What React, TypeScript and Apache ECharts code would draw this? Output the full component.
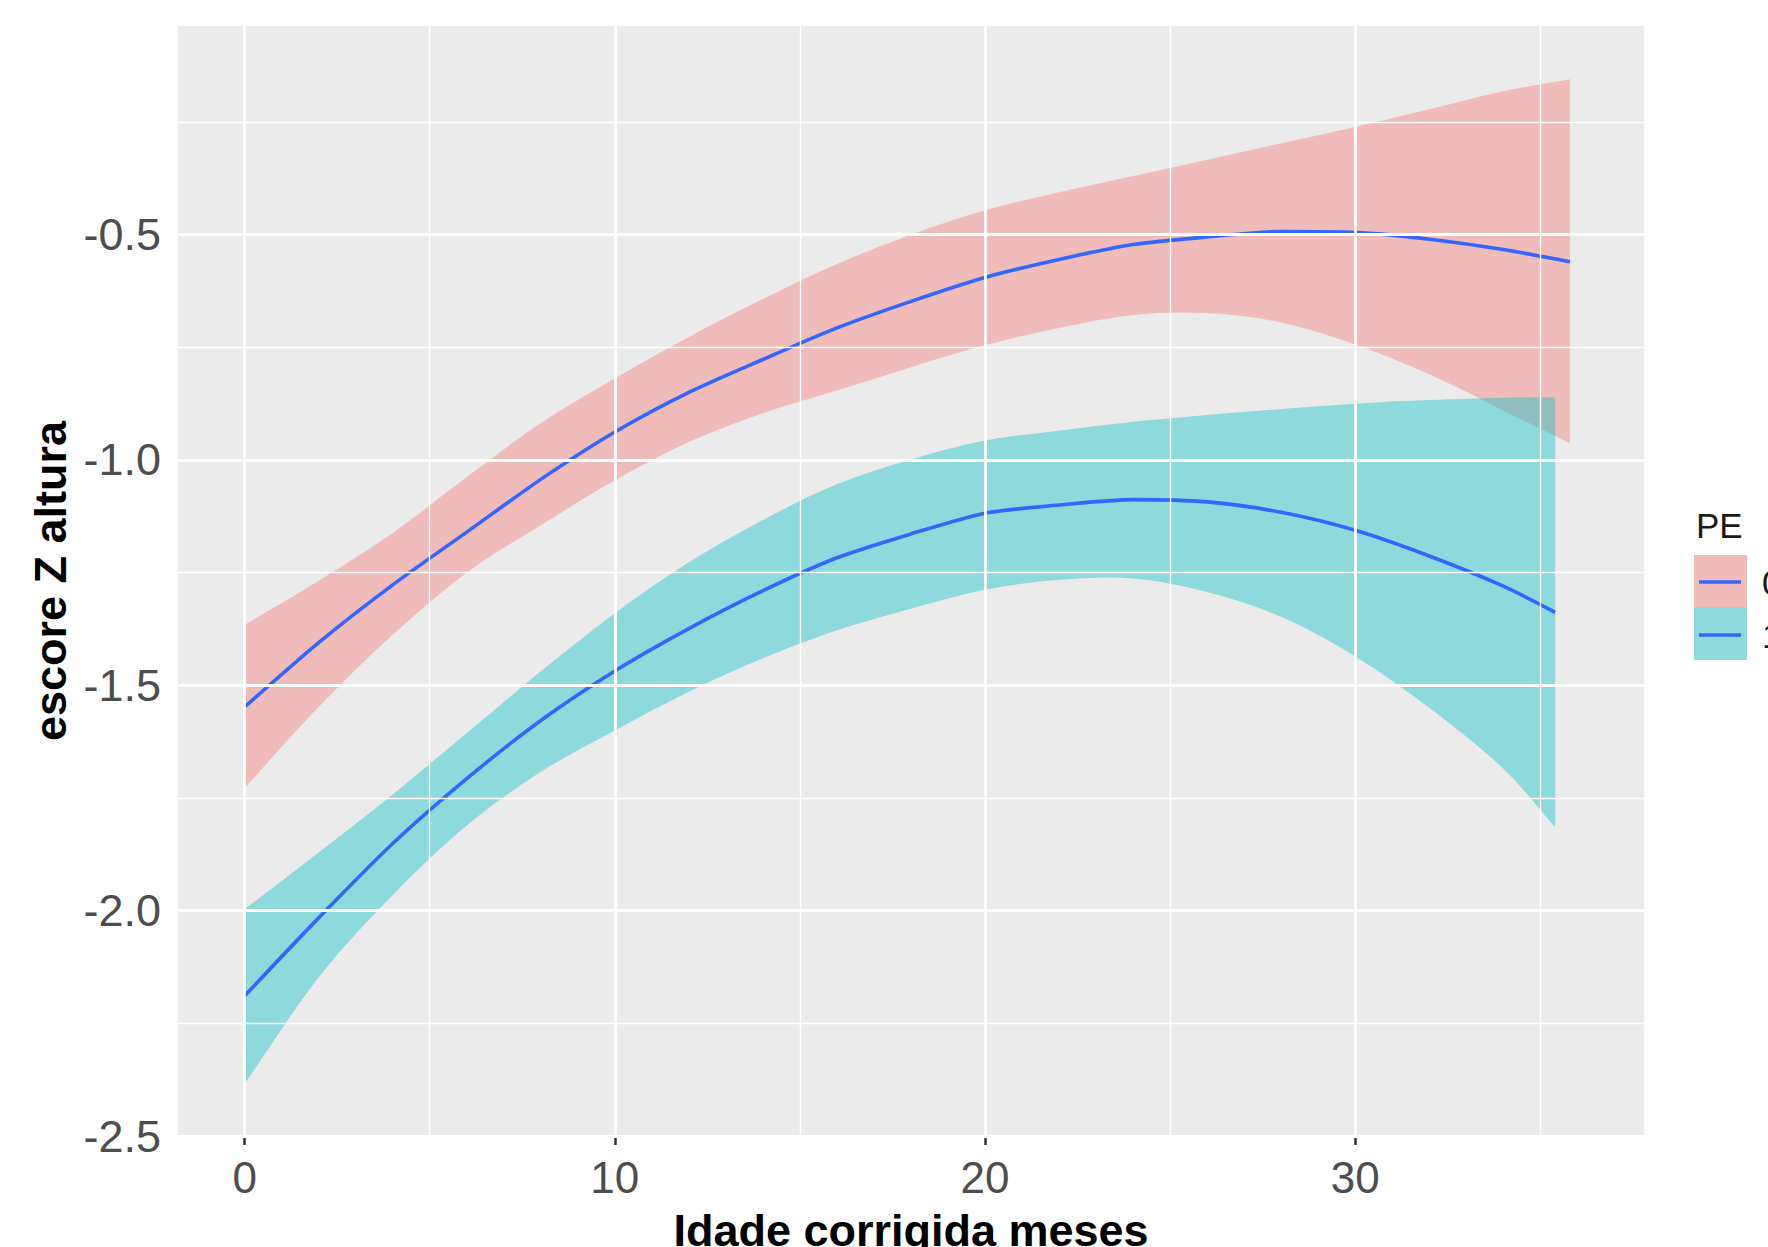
import React, { useEffect, useRef } from "react";
import * as echarts from "echarts";

// ---- Data ----
const xPE0 = [0, 2, 4, 6, 8, 10, 12, 14, 16, 18, 20, 22, 24, 26, 28, 30, 32, 34, 35.8];
const fitPE0 = [-1.548, -1.405, -1.277, -1.16, -1.043, -0.938, -0.85, -0.777, -0.707, -0.648, -0.595, -0.555, -0.522, -0.505, -0.493, -0.495, -0.51, -0.533, -0.56];
const upperPE0 = [-1.366, -1.268, -1.162, -1.038, -0.918, -0.819, -0.727, -0.643, -0.565, -0.5, -0.446, -0.406, -0.37, -0.334, -0.297, -0.261, -0.222, -0.182, -0.155];
const lowerPE0 = [-1.728, -1.548, -1.388, -1.25, -1.145, -1.045, -0.96, -0.896, -0.846, -0.794, -0.745, -0.707, -0.678, -0.674, -0.695, -0.744, -0.81, -0.89, -0.963];

const xPE1 = [0, 2, 4, 6, 8, 10, 12, 14, 16, 18, 20, 22, 24, 26, 28, 30, 32, 34, 35.4];
const fitPE1 = [-2.189, -2.016, -1.851, -1.707, -1.578, -1.468, -1.374, -1.29, -1.217, -1.164, -1.118, -1.1, -1.088, -1.093, -1.116, -1.156, -1.213, -1.28, -1.338];
const upperPE1 = [-1.997, -1.871, -1.742, -1.606, -1.469, -1.34, -1.227, -1.133, -1.054, -0.999, -0.957, -0.935, -0.915, -0.9, -0.887, -0.875, -0.867, -0.862, -0.861];
const lowerPE1 = [-2.385, -2.148, -1.965, -1.811, -1.692, -1.6, -1.514, -1.44, -1.378, -1.33, -1.288, -1.266, -1.263, -1.293, -1.348, -1.436, -1.55, -1.685, -1.815];

const xTicks = [0, 10, 20, 30];
const xMinorGrid = [5, 15, 25, 35];
const yTicks = [-2.5, -2.0, -1.5, -1.0, -0.5];
const yMinorGrid = [-2.25, -1.75, -1.25, -0.75, -0.25];

const groupLabels = ["0", "1"];
const legendTitle = "PE";
const xTitle = "Idade corrigida meses";
const yTitle = "escore Z altura";

const FONT = "'Liberation Sans', Arial, sans-serif";
const LINE_BLUE = "#3366FF";
const FILL_PE0 = "rgba(248,118,109,0.4)";
const FILL_PE1 = "rgba(0,191,196,0.4)";

// Catmull-Rom spline through pixel points, as SVG cubic segments
function splineSegments(pts: number[][]): string {
  let d = "";
  const n = pts.length;
  for (let i = 0; i < n - 1; i++) {
    const p0 = pts[i - 1] || pts[i];
    const p1 = pts[i];
    const p2 = pts[i + 1];
    const p3 = pts[i + 2] || p2;
    const c1x = p1[0] + (p2[0] - p0[0]) / 6;
    const c1y = p1[1] + (p2[1] - p0[1]) / 6;
    const c2x = p2[0] - (p3[0] - p1[0]) / 6;
    const c2y = p2[1] - (p3[1] - p1[1]) / 6;
    d += ` C ${c1x} ${c1y} ${c2x} ${c2y} ${p2[0]} ${p2[1]}`;
  }
  return d;
}

function bandSeries(xs: number[], upper: number[], lower: number[], fill: string) {
  return {
    type: "custom",
    z: 2,
    clip: true,
    silent: true,
    data: [[xs[0], lower[0]]],
    renderItem: (_params: any, api: any) => {
      const up: number[][] = xs.map((x, i) => api.coord([x, upper[i]]));
      const lo: number[][] = xs.map((x, i) => api.coord([x, lower[i]])).reverse();
      const d =
        `M ${up[0][0]} ${up[0][1]}` +
        splineSegments(up) +
        ` L ${lo[0][0]} ${lo[0][1]}` +
        splineSegments(lo) +
        " Z";
      return { type: "path", shape: { pathData: d }, style: { fill, stroke: null } };
    },
  };
}

function lineSeries(xs: number[], ys: number[]) {
  return {
    type: "line",
    z: 3,
    silent: true,
    showSymbol: false,
    symbol: "none",
    smooth: 0.25,
    lineStyle: { color: LINE_BLUE, width: 3.6 },
    data: xs.map((x, i) => [x, ys[i]]),
  };
}

export default function App() {
  const ref = useRef<HTMLDivElement>(null);
  useEffect(() => {
    if (!ref.current) return;
    const chart = echarts.init(ref.current, null, { renderer: "svg" });
    const major = { color: "#FFFFFF", width: 2.8, type: "solid" };
    const minor = { color: "#FFFFFF", width: 1.4, type: "solid" };
    const gridLines = [
      ...xMinorGrid.map((v) => ({ xAxis: v, lineStyle: minor })),
      ...yMinorGrid.map((v) => ({ yAxis: v, lineStyle: minor })),
      ...xTicks.map((v) => ({ xAxis: v, lineStyle: major })),
      ...yTicks.map((v) => ({ yAxis: v, lineStyle: major })),
    ];
    const option: any = {
      animation: false,
      backgroundColor: "#FFFFFF",
      grid: {
        left: 178,
        right: 124,
        top: 26,
        bottom: 111,
        show: true,
        backgroundColor: "#EBEBEB",
        borderWidth: 0,
        containLabel: false,
        outerBoundsMode: "none",
      },
      xAxis: {
        type: "value",
        min: -1.8,
        max: 37.8,
        axisLine: { show: false },
        splitLine: { show: false },
        axisTick: { show: true, customValues: xTicks, length: 9, lineStyle: { color: "#333333", width: 2.5 } },
        axisLabel: {
          customValues: xTicks,
          fontSize: 44,
          color: "#4D4D4D",
          fontFamily: FONT,
          margin: 19,
          formatter: (v: number) => String(v),
        },
        name: xTitle,
        nameLocation: "middle",
        nameGap: 72,
        nameTextStyle: { fontSize: 45, fontWeight: "bold", color: "#000000", fontFamily: FONT },
      },
      yAxis: {
        type: "value",
        min: -2.5,
        max: -0.037,
        axisLine: { show: false },
        splitLine: { show: false },
        axisTick: { show: true, customValues: yTicks, length: 9, lineStyle: { color: "#333333", width: 2.5 } },
        axisLabel: {
          customValues: yTicks,
          fontSize: 45,
          color: "#4D4D4D",
          fontFamily: FONT,
          margin: 17,
          formatter: (v: number) => v.toFixed(1),
        },
        name: yTitle,
        nameLocation: "middle",
        nameRotate: 90,
        nameGap: 104,
        nameTextStyle: { fontSize: 45, fontWeight: "bold", color: "#000000", fontFamily: FONT },
      },
      series: [
        {
          type: "line",
          z: 1,
          silent: true,
          data: [],
          markLine: {
            silent: true,
            symbol: ["none", "none"],
            label: { show: false },
            emphasis: { disabled: true },
            animation: false,
            data: gridLines,
          },
        },
        bandSeries(xPE0, upperPE0, lowerPE0, FILL_PE0),
        bandSeries(xPE1, upperPE1, lowerPE1, FILL_PE1),
        lineSeries(xPE0, fitPE0),
        lineSeries(xPE1, fitPE1),
      ],
      graphic: [
        { type: "text", left: 1696, top: 508, style: { text: legendTitle, fontSize: 35, fill: "#1A1A1A", fontFamily: FONT } },
        { type: "rect", shape: { x: 1694, y: 555, width: 53, height: 52 }, style: { fill: "#F0BCB9" } },
        { type: "rect", shape: { x: 1694, y: 607, width: 53, height: 53 }, style: { fill: "#8DD9DB" } },
        { type: "line", shape: { x1: 1699, y1: 582, x2: 1741, y2: 582 }, style: { stroke: LINE_BLUE, lineWidth: 3.6 } },
        { type: "line", shape: { x1: 1699, y1: 635, x2: 1741, y2: 635 }, style: { stroke: LINE_BLUE, lineWidth: 3.6 } },
        { type: "text", x: 1762, y: 582, style: { text: groupLabels[0], fontSize: 35, fill: "#1A1A1A", fontFamily: FONT, verticalAlign: "middle" } },
        { type: "text", x: 1762, y: 635, style: { text: groupLabels[1], fontSize: 35, fill: "#1A1A1A", fontFamily: FONT, verticalAlign: "middle" } },
      ],
    };
    chart.setOption(option);
    return () => chart.dispose();
  }, []);
  return <div ref={ref} style={{ position: "absolute", left: 0, top: 0, width: 1768, height: 1247 }} />;
}
